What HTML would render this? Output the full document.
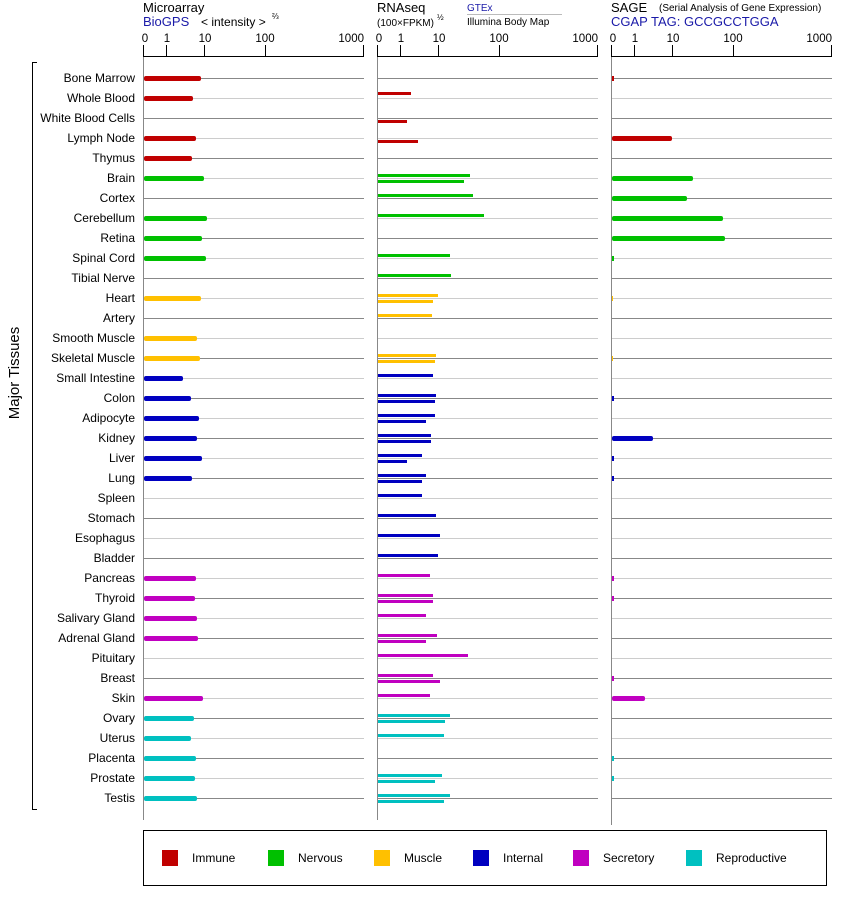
<!DOCTYPE html>
<html><head><meta charset="utf-8"><style>
body{margin:0;background:#fff}
svg{display:block;font-family:"Liberation Sans",Arial,sans-serif}
</style></head><body>
<svg width="842" height="900" viewBox="0 0 842 900" xmlns="http://www.w3.org/2000/svg">
<defs>
<g id="rd" stroke="#888" stroke-width="1"><line x1="144" x2="364" y1="0.5" y2="0.5"/><line x1="378" x2="598" y1="0.5" y2="0.5"/><line x1="612" x2="832" y1="0.5" y2="0.5"/></g>
<g id="rl" stroke="#ccc" stroke-width="1"><line x1="144" x2="364" y1="0.5" y2="0.5"/><line x1="378" x2="598" y1="0.5" y2="0.5"/><line x1="612" x2="832" y1="0.5" y2="0.5"/></g>
</defs>
<text x="143" y="12" font-size="13">Microarray</text>
<text x="143" y="26" font-size="13" fill="#1a1aa8">BioGPS</text>
<text x="201" y="26" font-size="12">&lt; intensity &gt;</text>
<text x="272" y="19" font-size="8">⅔</text>
<text x="377" y="12" font-size="13">RNAseq</text>
<text x="377" y="26" font-size="10">(100×FPKM)</text>
<text x="437" y="20" font-size="8">½</text>
<text x="467" y="11" font-size="10" fill="#1a1aa8">GTEx</text>
<line x1="467" x2="562" y1="14.5" y2="14.5" stroke="#bbb"/>
<text x="467" y="25" font-size="10">Illumina Body Map</text>
<text x="611" y="12" font-size="13">SAGE</text>
<text x="659" y="11" font-size="10">(Serial Analysis of Gene Expression)</text>
<text x="611" y="26" font-size="13" fill="#1a1aa8">CGAP TAG: GCCGCCTGGA</text>
<g stroke="#000" stroke-width="1">
<line x1="143.5" x2="363.5" y1="56.5" y2="56.5"/><line x1="143.5" x2="143.5" y1="45" y2="57"/><line x1="166.5" x2="166.5" y1="45" y2="57"/><line x1="204.5" x2="204.5" y1="45" y2="57"/><line x1="265.5" x2="265.5" y1="45" y2="57"/><line x1="363.5" x2="363.5" y1="45" y2="57"/>
<line x1="377.5" x2="597.5" y1="56.5" y2="56.5"/><line x1="377.5" x2="377.5" y1="45" y2="57"/><line x1="400.5" x2="400.5" y1="45" y2="57"/><line x1="438.5" x2="438.5" y1="45" y2="57"/><line x1="499.5" x2="499.5" y1="45" y2="57"/><line x1="597.5" x2="597.5" y1="45" y2="57"/>
<line x1="611.5" x2="831.5" y1="56.5" y2="56.5"/><line x1="611.5" x2="611.5" y1="45" y2="57"/><line x1="634.5" x2="634.5" y1="45" y2="57"/><line x1="672.5" x2="672.5" y1="45" y2="57"/><line x1="733.5" x2="733.5" y1="45" y2="57"/><line x1="831.5" x2="831.5" y1="45" y2="57"/>
</g>
<g font-size="11.5" text-anchor="middle">
<text x="145" y="42">0</text><text x="167" y="42">1</text><text x="205" y="42">10</text><text x="265" y="42">100</text><text x="364" y="42" text-anchor="end">1000</text>
<text x="379" y="42">0</text><text x="401" y="42">1</text><text x="439" y="42">10</text><text x="499" y="42">100</text><text x="598" y="42" text-anchor="end">1000</text>
<text x="613" y="42">0</text><text x="635" y="42">1</text><text x="673" y="42">10</text><text x="733" y="42">100</text><text x="832" y="42" text-anchor="end">1000</text>
</g>
<g stroke="#888"><line x1="143.5" x2="143.5" y1="57" y2="820"/><line x1="377.5" x2="377.5" y1="57" y2="820"/><line x1="611.5" x2="611.5" y1="57" y2="825"/></g>
<path d="M37 62.5H32.5V809.5H37" fill="none" stroke="#000"/>
<text transform="translate(19,373) rotate(-90)" font-size="15" text-anchor="middle">Major Tissues</text>
<use href="#rd" y="78"/><use href="#rl" y="98"/><use href="#rd" y="118"/><use href="#rl" y="138"/><use href="#rd" y="158"/><use href="#rl" y="178"/><use href="#rd" y="198"/><use href="#rl" y="218"/><use href="#rd" y="238"/><use href="#rl" y="258"/><use href="#rd" y="278"/><use href="#rl" y="298"/><use href="#rd" y="318"/><use href="#rl" y="338"/><use href="#rd" y="358"/><use href="#rl" y="378"/><use href="#rd" y="398"/><use href="#rl" y="418"/><use href="#rd" y="438"/><use href="#rl" y="458"/><use href="#rd" y="478"/><use href="#rl" y="498"/><use href="#rd" y="518"/><use href="#rl" y="538"/><use href="#rd" y="558"/><use href="#rl" y="578"/><use href="#rd" y="598"/><use href="#rl" y="618"/><use href="#rd" y="638"/><use href="#rl" y="658"/><use href="#rd" y="678"/><use href="#rl" y="698"/><use href="#rd" y="718"/><use href="#rl" y="738"/><use href="#rd" y="758"/><use href="#rl" y="778"/><use href="#rd" y="798"/>
<g font-size="12" text-anchor="end">
<text x="135" y="82">Bone Marrow</text><text x="135" y="102">Whole Blood</text><text x="135" y="122">White Blood Cells</text><text x="135" y="142">Lymph Node</text><text x="135" y="162">Thymus</text><text x="135" y="182">Brain</text><text x="135" y="202">Cortex</text><text x="135" y="222">Cerebellum</text><text x="135" y="242">Retina</text><text x="135" y="262">Spinal Cord</text><text x="135" y="282">Tibial Nerve</text><text x="135" y="302">Heart</text><text x="135" y="322">Artery</text><text x="135" y="342">Smooth Muscle</text><text x="135" y="362">Skeletal Muscle</text><text x="135" y="382">Small Intestine</text><text x="135" y="402">Colon</text><text x="135" y="422">Adipocyte</text><text x="135" y="442">Kidney</text><text x="135" y="462">Liver</text><text x="135" y="482">Lung</text><text x="135" y="502">Spleen</text><text x="135" y="522">Stomach</text><text x="135" y="542">Esophagus</text><text x="135" y="562">Bladder</text><text x="135" y="582">Pancreas</text><text x="135" y="602">Thyroid</text><text x="135" y="622">Salivary Gland</text><text x="135" y="642">Adrenal Gland</text><text x="135" y="662">Pituitary</text><text x="135" y="682">Breast</text><text x="135" y="702">Skin</text><text x="135" y="722">Ovary</text><text x="135" y="742">Uterus</text><text x="135" y="762">Placenta</text><text x="135" y="782">Prostate</text><text x="135" y="802">Testis</text>
</g>
<g fill="#c00000"><rect x="144" y="76" width="57" height="5" rx="2"/><rect x="144" y="96" width="49" height="5" rx="2"/><rect x="144" y="136" width="52" height="5" rx="2"/><rect x="144" y="156" width="48" height="5" rx="2"/></g>
<g fill="#00c000"><rect x="144" y="176" width="60" height="5" rx="2"/><rect x="144" y="216" width="63" height="5" rx="2"/><rect x="144" y="236" width="58" height="5" rx="2"/><rect x="144" y="256" width="62" height="5" rx="2"/></g>
<g fill="#ffc000"><rect x="144" y="296" width="57" height="5" rx="2"/><rect x="144" y="336" width="53" height="5" rx="2"/><rect x="144" y="356" width="56" height="5" rx="2"/></g>
<g fill="#0000c0"><rect x="144" y="376" width="39" height="5" rx="2"/><rect x="144" y="396" width="47" height="5" rx="2"/><rect x="144" y="416" width="55" height="5" rx="2"/><rect x="144" y="436" width="53" height="5" rx="2"/><rect x="144" y="456" width="58" height="5" rx="2"/><rect x="144" y="476" width="48" height="5" rx="2"/></g>
<g fill="#c000c0"><rect x="144" y="576" width="52" height="5" rx="2"/><rect x="144" y="596" width="51" height="5" rx="2"/><rect x="144" y="616" width="53" height="5" rx="2"/><rect x="144" y="636" width="54" height="5" rx="2"/><rect x="144" y="696" width="59" height="5" rx="2"/></g>
<g fill="#00c0c0"><rect x="144" y="716" width="50" height="5" rx="2"/><rect x="144" y="736" width="47" height="5" rx="2"/><rect x="144" y="756" width="52" height="5" rx="2"/><rect x="144" y="776" width="51" height="5" rx="2"/><rect x="144" y="796" width="53" height="5" rx="2"/></g>
<g fill="#c00000"><rect x="378" y="92" width="33" height="3"/><rect x="378" y="120" width="29" height="3"/><rect x="378" y="140" width="40" height="3"/></g>
<g fill="#00c000"><rect x="378" y="174" width="92" height="3"/><rect x="378" y="180" width="86" height="3"/><rect x="378" y="194" width="95" height="3"/><rect x="378" y="214" width="106" height="3"/><rect x="378" y="254" width="72" height="3"/><rect x="378" y="274" width="73" height="3"/></g>
<g fill="#ffc000"><rect x="378" y="294" width="60" height="3"/><rect x="378" y="300" width="55" height="3"/><rect x="378" y="314" width="54" height="3"/><rect x="378" y="354" width="58" height="3"/><rect x="378" y="360" width="57" height="3"/></g>
<g fill="#0000c0"><rect x="378" y="374" width="55" height="3"/><rect x="378" y="394" width="58" height="3"/><rect x="378" y="400" width="57" height="3"/><rect x="378" y="414" width="57" height="3"/><rect x="378" y="420" width="48" height="3"/><rect x="378" y="434" width="53" height="3"/><rect x="378" y="440" width="53" height="3"/><rect x="378" y="454" width="44" height="3"/><rect x="378" y="460" width="29" height="3"/><rect x="378" y="474" width="48" height="3"/><rect x="378" y="480" width="44" height="3"/><rect x="378" y="494" width="44" height="3"/><rect x="378" y="514" width="58" height="3"/><rect x="378" y="534" width="62" height="3"/><rect x="378" y="554" width="60" height="3"/></g>
<g fill="#c000c0"><rect x="378" y="574" width="52" height="3"/><rect x="378" y="594" width="55" height="3"/><rect x="378" y="600" width="55" height="3"/><rect x="378" y="614" width="48" height="3"/><rect x="378" y="634" width="59" height="3"/><rect x="378" y="640" width="48" height="3"/><rect x="378" y="654" width="90" height="3"/><rect x="378" y="674" width="55" height="3"/><rect x="378" y="680" width="62" height="3"/><rect x="378" y="694" width="52" height="3"/></g>
<g fill="#00c0c0"><rect x="378" y="714" width="72" height="3"/><rect x="378" y="720" width="67" height="3"/><rect x="378" y="734" width="66" height="3"/><rect x="378" y="774" width="64" height="3"/><rect x="378" y="780" width="57" height="3"/><rect x="378" y="794" width="72" height="3"/><rect x="378" y="800" width="66" height="3"/></g>
<g fill="#c00000"><rect x="612" y="76" width="2" height="5"/><rect x="612" y="136" width="60" height="5" rx="2"/></g>
<g fill="#00c000"><rect x="612" y="176" width="81" height="5" rx="2"/><rect x="612" y="196" width="75" height="5" rx="2"/><rect x="612" y="216" width="111" height="5" rx="2"/><rect x="612" y="236" width="113" height="5" rx="2"/><rect x="612" y="256" width="2" height="5"/></g>
<g fill="#ffc000"><rect x="612" y="296" width="1" height="5"/><rect x="612" y="356" width="1" height="5"/></g>
<g fill="#0000c0"><rect x="612" y="396" width="2" height="5"/><rect x="612" y="436" width="41" height="5" rx="2"/><rect x="612" y="456" width="2" height="5"/><rect x="612" y="476" width="2" height="5"/></g>
<g fill="#c000c0"><rect x="612" y="576" width="2" height="5"/><rect x="612" y="596" width="2" height="5"/><rect x="612" y="676" width="2" height="5"/><rect x="612" y="696" width="33" height="5" rx="2"/></g>
<g fill="#00c0c0"><rect x="612" y="756" width="2" height="5"/><rect x="612" y="776" width="2" height="5"/></g>
<rect x="143.5" y="830.5" width="683" height="55" fill="none" stroke="#000"/>
<g font-size="12">
<rect x="162" y="850" width="16" height="16" fill="#c00000"/><text x="192" y="862">Immune</text>
<rect x="268" y="850" width="16" height="16" fill="#00c000"/><text x="298" y="862">Nervous</text>
<rect x="374" y="850" width="16" height="16" fill="#ffc000"/><text x="404" y="862">Muscle</text>
<rect x="473" y="850" width="16" height="16" fill="#0000c0"/><text x="503" y="862">Internal</text>
<rect x="573" y="850" width="16" height="16" fill="#c000c0"/><text x="603" y="862">Secretory</text>
<rect x="686" y="850" width="16" height="16" fill="#00c0c0"/><text x="716" y="862">Reproductive</text>
</g>
</svg>
</body></html>
